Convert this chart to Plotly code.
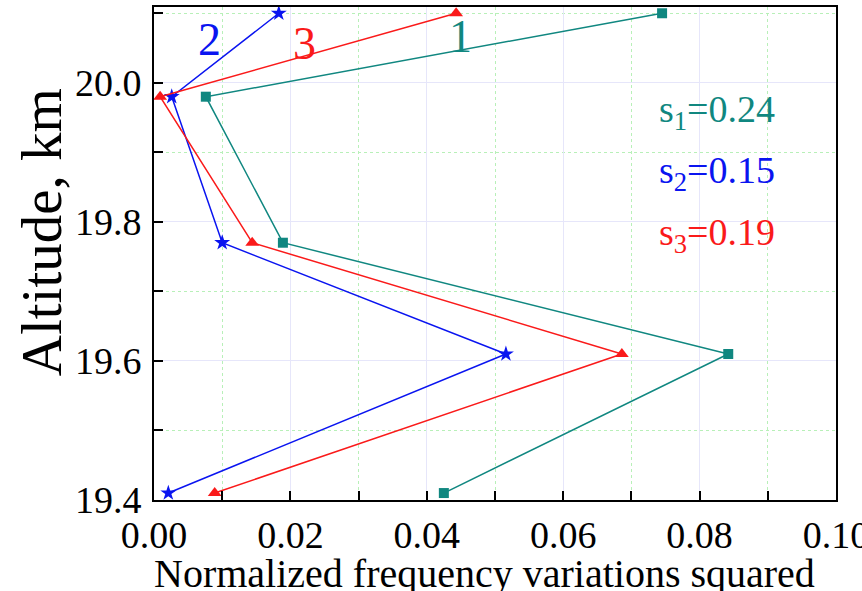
import plotly.graph_objects as go

altitude = [20.10, 19.98, 19.77, 19.61, 19.41]
series1 = [0.0745, 0.0076, 0.0189, 0.0842, 0.0425]
series2 = [0.0183, 0.0026, 0.0100, 0.0516, 0.0021]
series3 = [0.0443, 0.0009, 0.0144, 0.0686, 0.0089]

names = ["1", "2", "3"]
colors = ["#108780", "#0a14f0", "#fa1a1a"]
symbols = ["square", "star", "triangle-up"]
sizes = [10, 12, 12]
s_labels = ["s<sub>1</sub>=0.24", "s<sub>2</sub>=0.15", "s<sub>3</sub>=0.19"]
s_y = [19.958, 19.870, 19.781]
num_pos = [(0.0449, 20.066), (0.0081, 20.062), (0.0220, 20.057)]
x_ticks = [0, 0.02, 0.04, 0.06, 0.08, 0.0999999]
x_ticktext = ["0.00", "0.02", "0.04", "0.06", "0.08", "0.10"]

FONT = "Liberation Serif, Times New Roman, serif"

fig = go.Figure()
for i, xs in enumerate([series1, series2, series3]):
    fig.add_trace(go.Scatter(
        x=xs, y=altitude, mode="lines+markers", name=names[i],
        line=dict(color=colors[i], width=1.5),
        marker=dict(symbol=symbols[i], size=sizes[i], color=colors[i]),
        showlegend=False,
    ))
    fig.add_annotation(x=num_pos[i][0], y=num_pos[i][1], text=names[i],
                       showarrow=False, font=dict(family=FONT, size=46, color=colors[i]))
    fig.add_annotation(x=0.0826, y=s_y[i], text=s_labels[i], showarrow=False,
                       font=dict(family=FONT, size=38, color=colors[i]))

# axis titles as annotations for exact placement
fig.add_annotation(xref="paper", yref="paper", x=0.485, y=-0.1,
                   xanchor="center", yanchor="top", showarrow=False,
                   text="Normalized frequency variations squared",
                   font=dict(family=FONT, size=40, color="black"))
fig.add_annotation(xref="paper", yref="paper", x=-0.165, y=0.544,
                   xanchor="center", yanchor="middle", showarrow=False,
                   textangle=-90, text="Altitude, km",
                   font=dict(family=FONT, size=57, color="black"))

axis_common = dict(
    showline=True, linecolor="black", linewidth=2, mirror=True,
    ticks="inside", ticklen=9, tickwidth=1.5, tickcolor="black",
    tickfont=dict(family=FONT, size=38, color="black"),
    showgrid=True, gridcolor="#e6e6fa", gridwidth=1,
    zeroline=False, automargin=False,
)

fig.update_xaxes(
    range=[0, 0.1], tickvals=x_ticks, ticktext=x_ticktext,
    ticklabeloverflow="allow",
    minor=dict(dtick=0.01, ticks="inside", ticklen=9, tickcolor="black",
               showgrid=True, gridcolor="#b8f0b8", griddash="dot"),
    **axis_common,
)
fig.update_yaxes(
    range=[19.4, 20.109], dtick=0.2, tick0=19.4, tickformat=".1f",
    ticklabelstandoff=3,
    minor=dict(dtick=0.1, ticks="inside", ticklen=9, tickcolor="black",
               showgrid=True, gridcolor="#b8f0b8", griddash="dot"),
    **axis_common,
)

fig.update_layout(
    width=862, height=591,
    margin=dict(l=154, r=26, t=7, b=91),
    plot_bgcolor="white", paper_bgcolor="white",
)

fig.write_html("out.html", config={"displayModeBar": False},
               post_script="document.body.style.margin='0';document.body.style.overflow='hidden';")
